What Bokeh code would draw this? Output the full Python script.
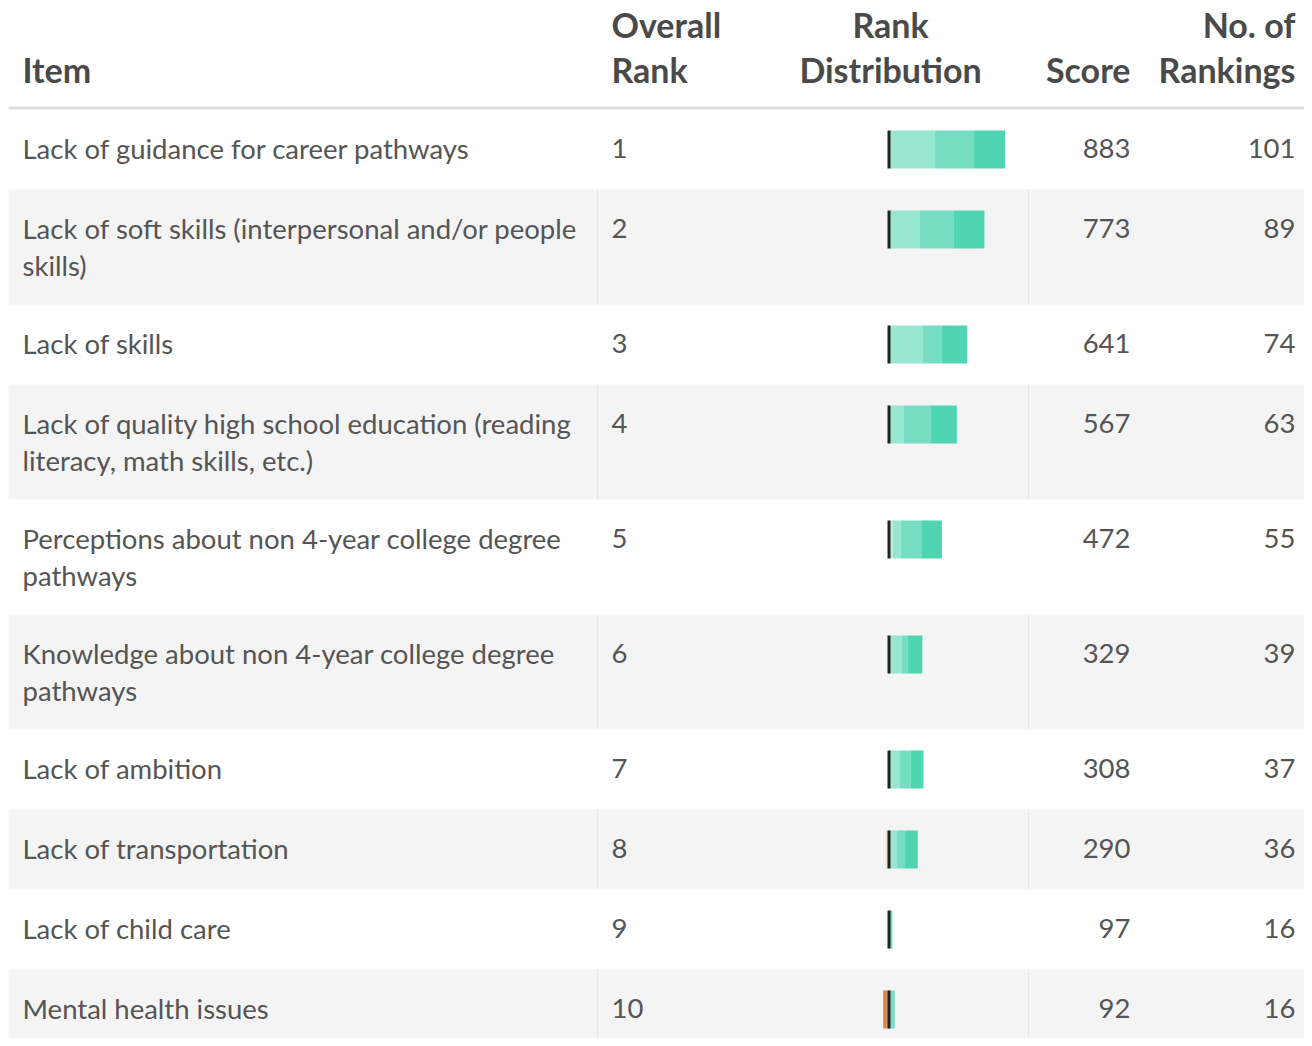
import textwrap
from bokeh.plotting import figure
from bokeh.models import Range1d, ColumnDataSource
from bokeh.embed import file_html
from bokeh.resources import INLINE
from bokeh.core.properties import value

# ---------------- data ----------------
items = [
    "Lack of guidance for career pathways",
    "Lack of soft skills (interpersonal and/or people skills)",
    "Lack of skills",
    "Lack of quality high school education (reading literacy, math skills, etc.)",
    "Perceptions about non 4-year college degree pathways",
    "Knowledge about non 4-year college degree pathways",
    "Lack of ambition",
    "Lack of transportation",
    "Lack of child care",
    "Mental health issues",
]
overall_rank = [1, 2, 3, 4, 5, 6, 7, 8, 9, 10]
scores = [883, 773, 641, 567, 472, 329, 308, 290, 97, 92]
num_rankings = [101, 89, 74, 63, 55, 39, 37, 36, 16, 16]

# rank distribution (counts per rank position); ranks 1-5 stack right of centre, 6-10 left
rank1 = [27, 27, 22, 23, 18, 13, 11, 11, 0, 0]
rank2 = [34, 29, 17, 23, 18, 5, 10, 7, 3, 5]
rank3 = [39, 27, 29, 13, 7, 10, 9, 7, 0, 0]
rank4 = [1, 0, 0, 0, 2, 1, 0, 0, 0, 0]
rank5 = [0, 0, 0, 0, 1, 0, 0, 0, 0, 0]
rank6 = [0, 0, 0, 0, 0, 0, 0, 3, 0, 0]
rank7 = [0, 0, 0, 0, 0, 0, 0, 0, 0, 0]
rank8 = [0, 0, 0, 0, 0, 0, 0, 0, 0, 0]
rank9 = [0, 0, 0, 0, 0, 0, 0, 0, 0, 2]
rank10 = [0, 0, 0, 0, 0, 0, 0, 0, 0, 3]

header_cols = [
    ("Item", 22, "left"),
    ("Overall\nRank", 611, "left"),
    ("Rank\nDistribution", 890, "center"),
    ("Score", 1130, "right"),
    ("No. of\nRankings", 1295, "right"),
]

# ---------------- styling / layout ----------------
W, H = 1304, 1038
FONT = "Lato"
BODY_SIZE = "27.5px"
HEAD_SIZE = "34px"
BODY_COLOR = "#555555"
HEAD_COLOR = "#4a4a4a"
STRIPE = "#f4f4f4"
ZERO_X = 888.5
PX_PER_COUNT = 1.15
right_colors = ["#4fd5b1", "#74ddc2", "#96e6d0", "#b6eede", "#d3f5eb"]  # rank 1..5
left_colors = ["#f6e0d0", "#f3c7a6", "#f0ae80", "#ec9858", "#e07f3f"]   # rank 6..10

p = figure(width=W, height=H, output_backend="svg", toolbar_location=None,
           x_range=Range1d(0, W), y_range=Range1d(H, 0),
           min_border=0, outline_line_color=None, background_fill_color="white",
           border_fill_color="white")
p.axis.visible = False
p.grid.visible = False
p.extra_x_ranges = {"dist": Range1d((0 - ZERO_X) / PX_PER_COUNT, (W - ZERO_X) / PX_PER_COUNT)}

# header
p.quad(left=8, right=W, top=106, bottom=109, fill_color="#dddddd", line_color=None)
for label, x, align in header_cols:
    lines = label.split("\n")
    cy = [68.5 - 45 * (len(lines) - 1 - i) for i in range(len(lines))]
    p.text(x=[x] * len(lines), y=cy, text=lines, text_font=value(FONT),
           text_font_size=HEAD_SIZE, text_font_style="bold", text_color=HEAD_COLOR,
           text_align=align, text_baseline="middle")

# rows
wrapped = [textwrap.wrap(t, 48) for t in items]
tops, centers = [], []
y = 109
for w in wrapped:
    tops.append(y)
    centers.append(y + 40)
    y += 80 + 35 * (len(w) - 1)
bottoms = tops[1:] + [y]

stripe_idx = [i for i in range(len(items)) if i % 2 == 1]
p.quad(left=8, right=W, top=[tops[i] for i in stripe_idx],
       bottom=[bottoms[i] for i in stripe_idx], fill_color=STRIPE, line_color=None)
for sx in (597, 1028):
    p.segment(x0=sx, x1=sx, y0=[tops[i] for i in stripe_idx], y1=[bottoms[i] for i in stripe_idx],
              line_color="#e6e6e6", line_width=1)

# texts
tx, ty, tt = [], [], []
for i, w in enumerate(wrapped):
    for j, line in enumerate(w):
        tx.append(22); ty.append(centers[i] - 1.5 + 37 * j); tt.append(line)
p.text(x=tx, y=ty, text=tt, text_font=value(FONT), text_font_size=BODY_SIZE,
       text_color=BODY_COLOR, text_align="left", text_baseline="middle")
num_y = [c - 1.5 for c in centers]
p.text(x=[611] * len(items), y=num_y, text=[str(r) for r in overall_rank],
       text_font=value(FONT), text_font_size=BODY_SIZE, text_color=BODY_COLOR,
       text_align="left", text_baseline="middle")
p.text(x=[1130] * len(items), y=num_y, text=[str(s) for s in scores],
       text_font=value(FONT), text_font_size=BODY_SIZE, text_color=BODY_COLOR,
       text_align="right", text_baseline="middle")
p.text(x=[1295] * len(items), y=num_y, text=[str(n) for n in num_rankings],
       text_font=value(FONT), text_font_size=BODY_SIZE, text_color=BODY_COLOR,
       text_align="right", text_baseline="middle")

# diverging stacked bars
right_series = [rank5, rank4, rank3, rank2, rank1]
right_cols = right_colors[::-1]
cum = [0] * len(items)
for ser, col in zip(right_series, right_cols):
    left = cum[:]
    cum = [c + v for c, v in zip(cum, ser)]
    src = ColumnDataSource(dict(y=centers, left=left, right=cum))
    p.hbar(y="y", left="left", right="right", height=38, source=src,
           fill_color=col, line_color=None, x_range_name="dist")
left_series = [rank6, rank7, rank8, rank9, rank10]
cum = [0] * len(items)
for ser, col in zip(left_series, left_colors):
    right = cum[:]
    cum = [c - v for c, v in zip(cum, ser)]
    src = ColumnDataSource(dict(y=centers, left=cum, right=right))
    p.hbar(y="y", left="left", right="right", height=38, source=src,
           fill_color=col, line_color=None, x_range_name="dist")
p.segment(x0=[0] * len(items), x1=[0] * len(items), y0=[c - 19 for c in centers],
          y1=[c + 19 for c in centers], line_color="#222222", line_width=3, x_range_name="dist")

open("out.html", "w").write(file_html(p, INLINE))
